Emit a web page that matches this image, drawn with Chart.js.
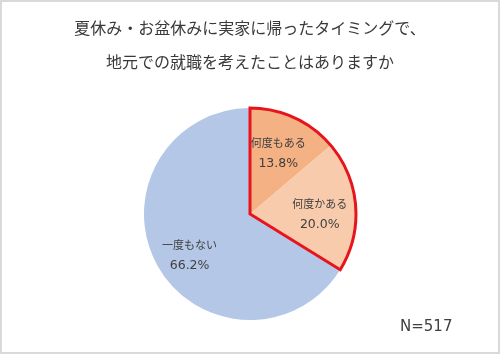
<!DOCTYPE html>
<html><head><meta charset="utf-8">
<script src="https://cdn.jsdelivr.net/npm/chart.js@4/dist/chart.umd.min.js"></script>
<style>
html,body{margin:0;padding:0;background:#fff;}
#wrap{position:relative;width:500px;height:354px;overflow:hidden;}
#frame{position:absolute;left:0;top:0;width:496px;height:350px;border:2px solid #d9d9d9;pointer-events:none;}
canvas{position:absolute;left:0;top:0;}
.t{position:absolute;left:0;width:500px;text-align:center;font-family:"Noto Sans CJK JP",sans-serif;font-size:16px;color:#3a3a3a;line-height:20px;}
#n{position:absolute;left:400px;top:316px;font-family:"DejaVu Sans",sans-serif;font-size:15px;color:#404040;line-height:20px;}
</style></head>
<body><div id="wrap">
<canvas id="c" width="500" height="354"></canvas>
<div class="t" style="top:17px">夏休み・お盆休みに実家に帰ったタイミングで、</div>
<div class="t" style="top:51px">地元での就職を考えたことはありますか</div>
<div id="n">N=517</div>
<div id="frame"></div>
</div>
<script>
const categories = ["何度もある", "何度かある", "一度もない"];
const values = [13.8, 20.0, 66.2];
const colors = ["#F4B183", "#F8CBAD", "#B4C7E7"];

const labelFactor = [0.635, 0.66, 0.685];
const labelNudge = [[0, 0], [0, 5], [3, 5]];

const labelPlugin = {
  id: "sliceLabels",
  afterDatasetsDraw(chart) {
    const ctx = chart.ctx;
    const meta = chart.getDatasetMeta(0);
    const a0 = meta.data[0], a1 = meta.data[1];
    ctx.save();
    ctx.beginPath();
    ctx.moveTo(a0.x, a0.y);
    ctx.arc(a0.x, a0.y, a0.outerRadius, a0.startAngle, a1.endAngle);
    ctx.closePath();
    ctx.lineWidth = 3;
    ctx.strokeStyle = "#E8141C";
    ctx.lineJoin = "miter";
    ctx.stroke();
    ctx.restore();
    ctx.save();
    ctx.fillStyle = "#404040";
    ctx.textAlign = "center";
    ctx.textBaseline = "middle";
    meta.data.forEach((arc, i) => {
      const mid = (arc.startAngle + arc.endAngle) / 2;
      const r = arc.outerRadius * labelFactor[i];
      const x = arc.x + Math.cos(mid) * r + labelNudge[i][0];
      const y = arc.y + Math.sin(mid) * r + labelNudge[i][1];
      ctx.font = '11px "Noto Sans CJK JP", sans-serif';
      ctx.fillText(categories[i], x, y - 10);
      ctx.font = '12.5px "DejaVu Sans", sans-serif';
      ctx.fillText(values[i].toFixed(1) + "%", x, y + 11);
    });
    ctx.restore();
  }
};

new Chart(document.getElementById("c"), {
  type: "pie",
  data: {
    labels: categories,
    datasets: [{ data: values, backgroundColor: colors, borderWidth: 0 }]
  },
  options: {
    responsive: false,
    animation: false,
    layout: { padding: { top: 108, bottom: 34, left: 0, right: 0 } },
    plugins: { legend: { display: false }, tooltip: { enabled: false }, title: { display: false } }
  },
  plugins: [labelPlugin]
});
</script>
</body></html>
